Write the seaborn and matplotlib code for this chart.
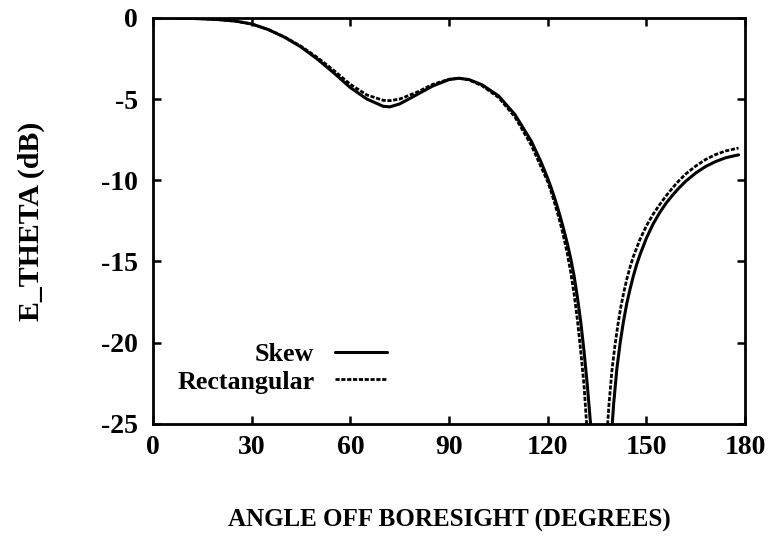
import matplotlib
matplotlib.use("Agg")
import matplotlib.pyplot as plt
import seaborn as sns
import pandas as pd

# Skew (solid)
skew_angle = [0, 5, 10, 15, 20, 25, 30, 35, 40, 45, 50, 55, 60, 65, 70, 72, 75, 80, 85, 90, 93, 96,
              100, 105, 110, 115, 118, 120, 121, 122, 123, 124, 125, 126, 127, 128, 129, 130, 131,
              132, 133, 134.5, 136.4, 138.3,
              139.6, 140, 141, 142, 143, 144, 145, 146, 147, 148, 150, 152, 154, 156, 158, 160, 162,
              165, 168, 171, 174, 177.4, 178]
skew_db = [0, -0.01, -0.03, -0.06, -0.11, -0.2, -0.38, -0.72, -1.2, -1.8, -2.55, -3.4, -4.3, -5.0,
           -5.45, -5.48, -5.3, -4.75, -4.2, -3.8, -3.72, -3.8,
           -4.12, -4.8, -5.95, -7.6, -8.9, -9.9, -10.45, -11.05, -11.7, -12.4, -13.15, -13.95,
           -14.85, -15.9, -17.2, -18.7, -20.5, -22.6, -25.0, -30.0, -40.0, -30.0,
           -25.0, -23.8, -21.6, -20.0, -18.7, -17.6, -16.7, -15.9, -15.2, -14.6, -13.55, -12.7,
           -12.0, -11.4, -10.9, -10.45, -10.05, -9.55, -9.15, -8.85, -8.62, -8.46, -8.44]

# Rectangular (dashed)
rect_angle = [0, 5, 10, 15, 20, 25, 30, 35, 40, 45, 50, 55, 60, 65, 70, 72, 75, 80, 85, 90, 93, 96,
              100, 105, 110, 115, 118, 120, 121, 122, 123, 124, 125, 126, 127, 128, 129, 130, 131,
              131.8, 133.2, 135, 136.8,
              138.2, 138.6, 139.5, 140.4, 141.3, 142.2, 143.1, 144, 145, 146, 148, 150, 152, 154,
              156, 158, 160, 162, 165, 168, 171, 174, 177.4, 178]
rect_db = [0, -0.01, -0.03, -0.06, -0.11, -0.2, -0.38, -0.72, -1.18, -1.75, -2.45, -3.25, -4.1,
           -4.75, -5.08, -5.1, -5.0, -4.6, -4.1, -3.78, -3.72, -3.82,
           -4.18, -4.9, -6.1, -7.85, -9.2, -10.1, -10.7, -11.35, -12.05, -12.8, -13.65, -14.6,
           -15.7, -17.0, -18.6, -20.5, -22.6, -25.0, -30.0, -40.0, -30.0,
           -25.0, -23.8, -21.7, -20.2, -18.9, -17.8, -16.9, -16.1, -15.35, -14.7, -13.65, -12.8,
           -12.1, -11.5, -10.95, -10.45, -10.0, -9.6, -9.12, -8.72, -8.42, -8.2, -8.04, -8.02]

x_ticks = [0, 30, 60, 90, 120, 150, 180]
y_ticks = [0, -5, -10, -15, -20, -25]

sns.set_theme(style="ticks")
plt.rcParams["font.family"] = ["Liberation Serif", "DejaVu Serif"]
plt.rcParams["font.weight"] = "bold"
plt.rcParams["text.color"] = "black"
plt.rcParams["axes.labelcolor"] = "black"
plt.rcParams["xtick.color"] = "black"
plt.rcParams["ytick.color"] = "black"

fig = plt.figure(figsize=(7.73, 5.40), dpi=100)
ax = fig.add_axes([0.198, 0.215, 0.766, 0.752])

skew = pd.DataFrame({"angle": skew_angle, "db": skew_db})
rect = pd.DataFrame({"angle": rect_angle, "db": rect_db})

sns.lineplot(data=skew, x="angle", y="db", ax=ax, color="black", linewidth=2.2,
             label="Skew", sort=False, estimator=None)
sns.lineplot(data=rect, x="angle", y="db", ax=ax, color="black", linewidth=2.0,
             label="Rectangular", sort=False, estimator=None)
ax.lines[1].set_dashes([1.5, 0.6])

ax.set_xlim(0, 180)
ax.set_ylim(-25, 0)
ax.set_xticks(x_ticks)
ax.set_yticks(y_ticks)
ax.set_xticklabels([str(v) for v in x_ticks])
ax.set_yticklabels([str(v) for v in y_ticks])

for sp in ax.spines.values():
    sp.set_visible(True)
    sp.set_linewidth(2.0)
    sp.set_color("black")

ax.tick_params(axis="both", which="both", direction="in", length=6, width=1.8,
               top=True, right=True, labelsize=20, colors="black")
ax.tick_params(axis="x", pad=8)
ax.tick_params(axis="y", pad=11)
for lab in ax.get_xticklabels() + ax.get_yticklabels():
    lab.set_fontweight("bold")
    lab.set_color("black")

ax.set_xlabel("ANGLE OFF BORESIGHT (DEGREES)", fontsize=18, fontweight="bold",
              labelpad=35, color="black")
ax.set_ylabel("E_THETA (dB)", fontsize=21.5, fontweight="bold", labelpad=40, color="black")

leg = ax.legend(loc="lower left", bbox_to_anchor=(0.01, 0.03), frameon=False,
                markerfirst=False, fontsize=18.7, handlelength=2.0, handletextpad=0.8,
                labelspacing=0.15, borderpad=0.2)
for t in leg.get_texts():
    t.set_fontweight("bold")
    t.set_color("black")

fig.savefig("out.png", dpi=100)
